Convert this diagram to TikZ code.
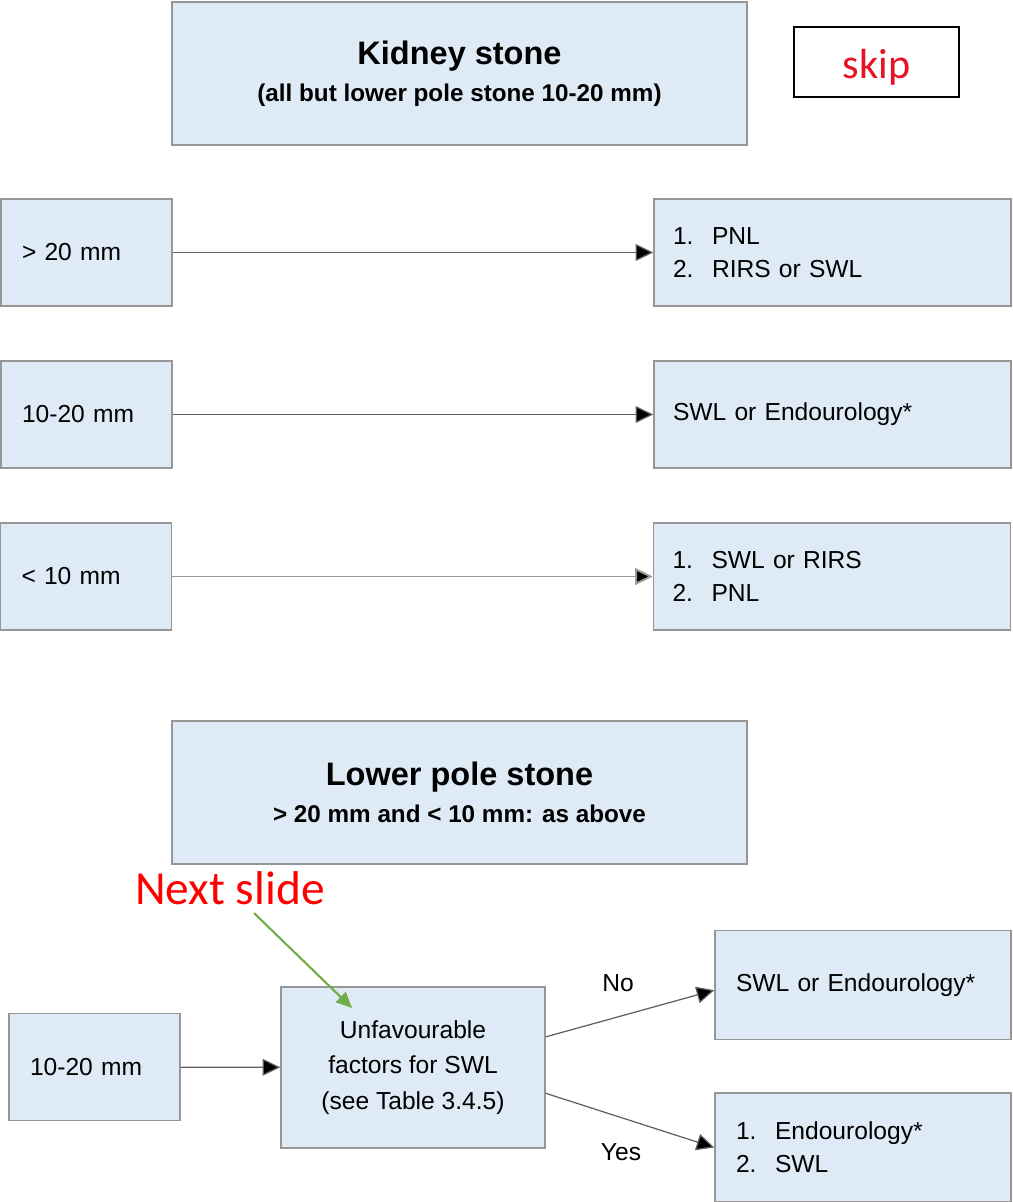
\documentclass[tikz,border=0pt]{standalone}
\usepackage{fontspec}
\setmainfont{Liberation Sans}
\newfontfamily\calfont{Carlito}
\usetikzlibrary{arrows.meta}

\definecolor{boxfill}{RGB}{222,234,245}
\definecolor{boxline}{RGB}{150,150,150}
\definecolor{arrowgray}{RGB}{95,95,95}
\definecolor{notegreen}{RGB}{112,173,71}
\definecolor{notered}{RGB}{255,0,0}
\definecolor{skipred}{RGB}{232,17,35}

\newcommand{\stepno}[1]{\makebox[0.78cm][l]{#1}}

\begin{document}
\begin{tikzpicture}[x=0.02cm, y=-0.02cm, font=\fontsize{14}{19}\selectfont,
    stonebox/.style={draw=boxline, fill=boxfill, line width=0.9pt, inner sep=0pt},
    titlebox/.style={stonebox, minimum width=11.5cm, minimum height=2.86cm, align=center},
    sizebox/.style={stonebox, minimum width=3.42cm, minimum height=2.14cm, text width=2.58cm, inner xsep=0.42cm, align=left},
    treatbox/.style={stonebox, minimum width=7.14cm, minimum height=2.14cm, text width=6.38cm, inner xsep=0.38cm, align=left},
    resultbox/.style={stonebox, minimum width=5.92cm, minimum height=2.18cm, text width=5.08cm, inner xsep=0.42cm, align=left},
    flow/.style={draw=arrowgray, line width=0.7pt, -{Triangle[length=10pt, width=9.5pt, fill=black]}},
    notearrow/.style={draw=notegreen, line width=1.2pt, -{Triangle[length=9pt, width=8pt]}}]
    \useasboundingbox (0,0) rectangle (1012,1202);

    % Kidney stone
    \node[titlebox] (kidney) at (459.5,73.5) {{\bfseries\fontsize{18.5}{20}\selectfont Kidney stone}\\[2pt]{\bfseries\fontsize{13.8}{18}\selectfont (all but lower pole stone 10-20 mm)}};
    \node[draw=black, line width=1.2pt, minimum width=3.3cm, minimum height=1.4cm, inner sep=0pt, text=skipred, font=\calfont\fontsize{24}{26}\selectfont] (skip) at (876.5,62) {\raisebox{-3pt}[\height][\depth]{skip}};

    % Stone size and treatment
    \node[sizebox] (big) at (86.5,252.5) {> 20 mm};
    \node[treatbox] (bigtreat) at (832.5,252.5) {\stepno{1.}PNL\\\stepno{2.}RIRS or SWL};
    \draw[flow] (big) -- (bigtreat);

    \node[sizebox] (mid) at (86.5,414.5) {10-20 mm};
    \node[treatbox] (midtreat) at (832.5,414.5) {SWL or Endourology*};
    \draw[flow] (mid) -- (midtreat);

    \node[sizebox] (small) at (86,576.5) {< 10 mm};
    \node[treatbox] (smalltreat) at (832,576.5) {\stepno{1.}SWL or RIRS\\\stepno{2.}PNL};
    \draw[flow, draw=gray!80, line width=1.1pt] (small) -- (smalltreat);

    % Lower pole stone
    \node[titlebox] (lowerpole) at (459.5,792.5) {{\bfseries\fontsize{18.5}{20}\selectfont Lower pole stone}\\[2pt]{\bfseries\fontsize{13.8}{18}\selectfont > 20 mm and < 10 mm: as above}};

    \node[sizebox] (lowmid) at (94.5,1067) {10-20 mm};
    \node[stonebox, minimum width=5.28cm, minimum height=3.22cm, align=center, font=\fontsize{14}{20}\selectfont] (unfav) at (413,1067.5) {Unfavourable\\factors for SWL\\(see Table 3.4.5)};
    \draw[flow] (lowmid) -- (unfav);

    \node[resultbox] (noresult) at (863,985) {SWL or Endourology*};
    \node[resultbox] (yesresult) at (863,1147.5) {\stepno{1.}Endourology*\\\stepno{2.}SWL};
    \draw[flow] (unfav.13) -- (noresult.182);
    \draw[flow] (unfav.-11) -- (yesresult.west);
    \node (nolabel) at (618,983) {No};
    \node (yeslabel) at (621,1152) {Yes};

    % Note
    \node[text=notered, font=\calfont\fontsize{27}{30}\selectfont] (nextslide) at (230,888) {Next slide};
    \coordinate (notestart) at (254,913);
    \coordinate (noteend) at (352,1008);
    \draw[notearrow] (notestart) -- (noteend);
\end{tikzpicture}
\end{document}
